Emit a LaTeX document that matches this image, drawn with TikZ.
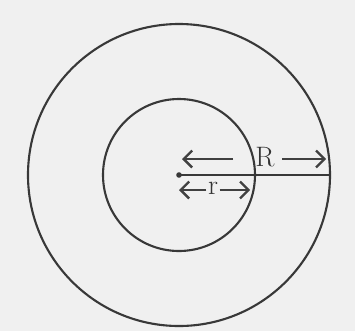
\documentclass[tikz,border=0pt]{standalone}
\usepackage{tikz}
\usetikzlibrary{arrows.meta,positioning}
\tikzset{ring/.style={line width=1.5pt,draw=black!78},
  dimarrow/.style={line width=1.7pt,draw=black!75,-{Straight Barb[length=6pt,width=12pt]}},
  dimlabel/.style={text=black!80,inner sep=1pt,font=\fontsize{20}{22}\selectfont}}

\begin{document}
\begin{tikzpicture}
    % radii of the two circles
    \pgfmathsetmacro{\Rout}{3.775}
    \pgfmathsetmacro{\rin}{1.9}

    \fill[black!6] (-4.475,-3.9) rectangle (4.4,4.375);
    \useasboundingbox (-4.475,-3.9) rectangle (4.4,4.375);

    \coordinate (centre) at (0,0);

    \draw[ring] (centre) circle[radius=\Rout];
    \draw[ring] (centre) circle[radius=\rin];
    \draw[ring] (centre) -- ++(0:\Rout) coordinate (outer_edge);
    \fill[black!78] (centre) circle[radius=0.07];

    % big radius R
    \node[dimlabel] (Rlab) at (2.15,0.44) {R};
    \coordinate (R_left) at (1.35,0.4);
    \coordinate (R_tip0) at (0.075,0.4);
    \coordinate (R_right) at (2.58,0.4);
    \coordinate (R_tip1) at (3.68,0.4);
    \draw[dimarrow] (R_left) -- (R_tip0);
    \draw[dimarrow] (R_right) -- (R_tip1);

    % small radius r
    \node[dimlabel] (rlab) at (0.85,-0.33) {r};
    \coordinate (r_tip0) at (0.0,-0.375);
    \coordinate (r_tip1) at (1.78,-0.375);
    \draw[dimarrow] (rlab.west |- r_tip0) -- (r_tip0);
    \draw[dimarrow] (rlab.east |- r_tip1) -- (r_tip1);
\end{tikzpicture}
\end{document}
